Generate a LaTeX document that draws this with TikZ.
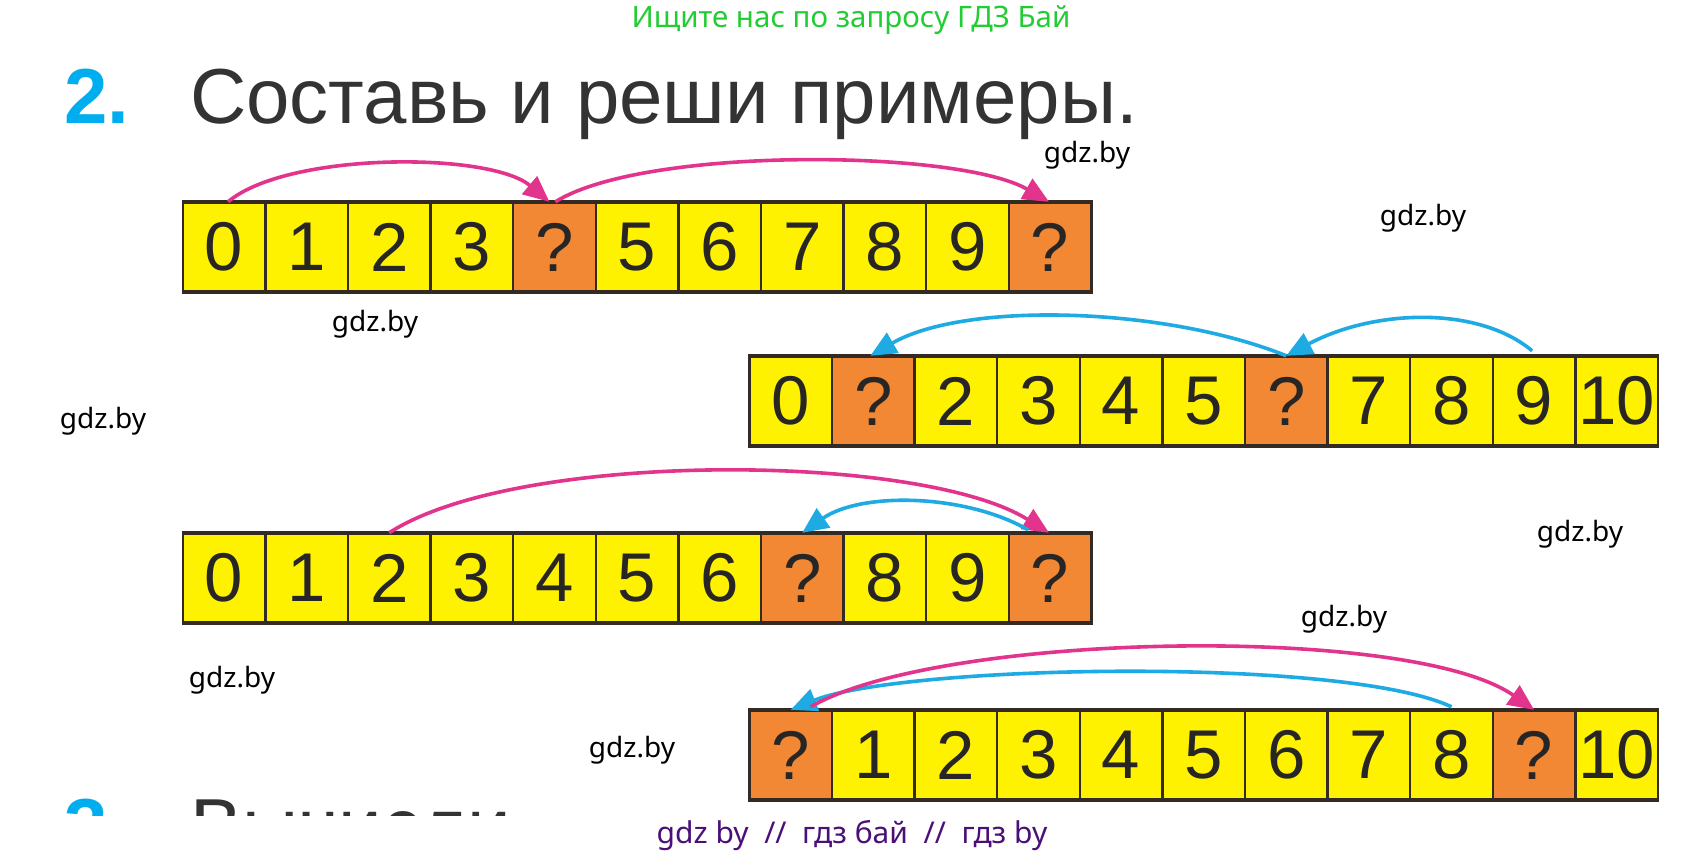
\documentclass[tikz,border=0pt]{standalone}
\usepackage{fontspec}
\setmainfont{Liberation Sans}
\newfontfamily\wmfont{Noto Sans}
\usetikzlibrary{arrows.meta}
\definecolor{cellyellow}{RGB}{255,242,0}
\definecolor{cellorange}{RGB}{242,135,52}
\definecolor{frame}{RGB}{50,42,35}
\definecolor{digit}{RGB}{40,38,36}
\definecolor{arrpink}{RGB}{226,52,140}
\definecolor{arrblue}{RGB}{30,170,226}
\definecolor{titlegray}{RGB}{51,51,51}
\definecolor{numblue}{RGB}{0,174,239}
\definecolor{wmgreen}{RGB}{34,204,51}
\definecolor{wmpurple}{RGB}{75,15,120}
\tikzset{
  cell/.style={rectangle, draw=frame, line width=2.4pt, fill=cellyellow,
    minimum width=82.6pt, minimum height=88pt, inner sep=0pt,
    font=\fontsize{69}{69}\selectfont, text=digit},
  qcell/.style={cell, fill=cellorange},
  rowline/.style={draw=frame, line width=3.6pt},
  pinkarrow/.style={draw=arrpink, line width=3.6pt, -{Triangle[length=26pt,width=23pt]}},
  bluearrow/.style={draw=arrblue, line width=3.6pt, -{Triangle[length=26pt,width=23pt]}},
  wm/.style={font=\wmfont\fontsize{28}{28}\selectfont, text=black, inner sep=0pt},
  bigtext/.style={font=\fontsize{78}{78}\selectfont, text=titlegray, inner sep=0pt, anchor=base west},
  bignum/.style={font=\bfseries\fontsize{78}{78}\selectfont, text=numblue, inner sep=0pt, anchor=base west}
}
\begin{document}
\begin{tikzpicture}[x=1pt,y=1pt]
\useasboundingbox (0,0) rectangle (1705,-852);
\fill[white] (0,0) rectangle (1705,-852);

% header watermark
\node[font=\wmfont\fontsize{29.5}{29.5}\selectfont, text=wmgreen, anchor=base, inner sep=0pt] (hdr) at (851,-27) {Ищите нас по запросу ГДЗ Бай};

% title
\node[bignum] (num2) at (64,-123) {2.};
\node[bigtext] (title) at (190,-123) {Составь и реши примеры.};

% row 1
\foreach \t/\s [count=\i from 0] in {0/cell,1/cell,2/cell,3/cell,?/qcell,5/cell,6/cell,7/cell,8/cell,9/cell,?/qcell}
  \node[\s] (r1c\i) at ({224+82.6*\i},-247) {\t};
% row 2
\foreach \t/\s [count=\i from 0] in {0/cell,?/qcell,2/cell,3/cell,4/cell,5/cell,?/qcell,7/cell,8/cell,9/cell,10/cell}
  \node[\s] (r2c\i) at ({790.7+82.6*\i},-401) {\t};
% row 3
\foreach \t/\s [count=\i from 0] in {0/cell,1/cell,2/cell,3/cell,4/cell,5/cell,6/cell,?/qcell,8/cell,9/cell,?/qcell}
  \node[\s] (r3c\i) at ({224+82.6*\i},-578) {\t};
% row 4
\foreach \t/\s [count=\i from 0] in {?/qcell,1/cell,2/cell,3/cell,4/cell,5/cell,6/cell,7/cell,8/cell,?/qcell,10/cell}
  \node[\s] (r4c\i) at ({790.7+82.6*\i},-755) {\t};

\foreach \r in {1,2,3,4}{
  \draw[rowline] (r\r c0.north west) -- (r\r c10.north east);
  \draw[rowline] (r\r c0.south west) -- (r\r c10.south east);
}

% arrows row 1
\draw[pinkarrow] ([xshift=4pt]r1c0.north) to[out=40,in=140,distance=78pt] ([xshift=-5pt]r1c4.north);
\draw[pinkarrow] ([xshift=1pt]r1c4.north) to[out=32,in=150,distance=105pt] ([xshift=-1pt]r1c10.north);
% arrows row 2
\draw[bluearrow] ([xshift=-2pt,yshift=5pt]r2c9.north) to[out=140,in=28,out distance=70pt,in distance=100pt] (r2c6.north);
\draw[bluearrow] (r2c6.north) to[out=158,in=30,out distance=130pt,in distance=110pt] ([xshift=-3pt]r2c1.north);
% arrows row 3
\draw[pinkarrow] (r3c2.north) to[out=33,in=148,distance=152pt] ([xshift=-1pt]r3c10.north);
\draw[bluearrow] ([xshift=-22pt,yshift=3pt]r3c10.north) to[out=150,in=35,distance=72pt] (r3c7.north);
% arrows row 4
\draw[bluearrow] ([yshift=3pt]r4c8.north) to[out=155,in=22,distance=120pt] (r4c0.north);
\draw[pinkarrow] ([xshift=20pt,yshift=3pt]r4c0.north) to[out=30,in=145,distance=150pt] (r4c9.north);

% watermarks
\node[wm] (w1) at (1087,-155) {gdz.by};
\node[wm] (w2) at (1423,-218) {gdz.by};
\node[wm] (w3) at (375,-324) {gdz.by};
\node[wm] (w4) at (103,-421) {gdz.by};
\node[wm] (w5) at (1580,-534) {gdz.by};
\node[wm] (w6) at (1344,-619) {gdz.by};
\node[wm] (w7) at (232,-680) {gdz.by};
\node[wm] (w8) at (632,-750) {gdz.by};

% next exercise, cut off as in the page
\begin{scope}
  \clip (0,-700) rectangle (1705,-815);
  \node[bignum] (num3) at (64,-853) {3.};
  \node[bigtext] (next) at (190,-853) {Вычисли.};
\end{scope}

% footer watermark
\node[font=\wmfont\fontsize{30}{30}\selectfont, text=wmpurple, anchor=base, inner sep=0pt] (ftr) at (852,-843) {gdz by\ \ //\ \ гдз бай\ \ //\ \ гдз by};
\end{tikzpicture}
\end{document}
